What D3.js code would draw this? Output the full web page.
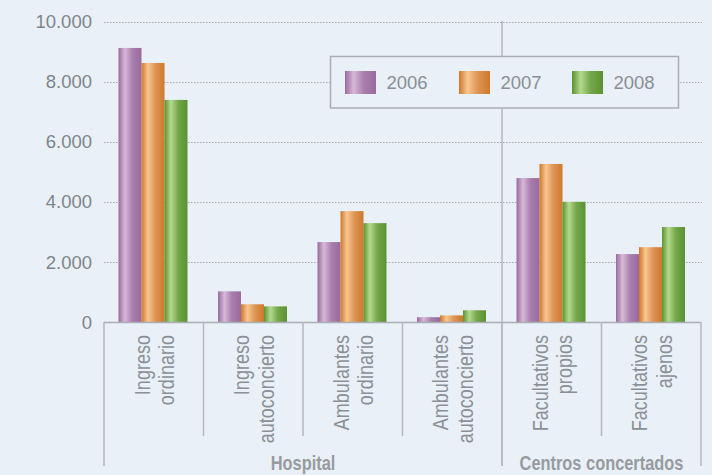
<!DOCTYPE html>
<html><head><meta charset="utf-8">
<script src="https://cdn.jsdelivr.net/npm/d3@7"></script>
<style>
html,body{margin:0;padding:0;background:#e9f0f7;}
svg{display:block;}
</style></head>
<body>
<svg id="c" width="712" height="475"></svg>
<script>
const categories = ["Ingreso ordinario","Ingreso autoconcierto","Ambulantes ordinario","Ambulantes autoconcierto","Facultativos propios","Facultativos ajenos"];
const categoryLines = [["Ingreso","ordinario"],["Ingreso","autoconcierto"],["Ambulantes","ordinario"],["Ambulantes","autoconcierto"],["Facultativos","propios"],["Facultativos","ajenos"]];
const years = ["2006","2007","2008"];
const values2006 = [9120, 1020, 2660, 160, 4790, 2260];
const values2007 = [8620, 590, 3690, 220, 5260, 2490];
const values2008 = [7390, 520, 3290, 390, 4000, 3160];
const groups = [{name:"Hospital", from:0, to:3},{name:"Centros concertados", from:4, to:5}];
const yTicks = [0, 2000, 4000, 6000, 8000, 10000];

const series = [values2006, values2007, values2008];
const colors = [
  {dark:"#996a9d", light:"#d7b8d8", mid:"#a97fae"},
  {dark:"#cf782a", light:"#f9c690", mid:"#de9556"},
  {dark:"#5a9231", light:"#b4d98d", mid:"#74a74b"}
];

const svg = d3.select("#c");
const bg = "#e9f0f7";
const grey = "#8b9096";
const lineGrey = "#a9aeb4";
const narrow = 0.82;

const x0 = d3.scaleBand().domain(categories).range([104, 701]).padding(0);
const x1 = d3.scaleBand().domain(years).range([14.5, 83.5]).padding(0);
const y = d3.scaleLinear().domain([0, 10000]).range([322, 21.5]);

const loc = d3.formatLocale({decimal:",", thousands:".", grouping:[3], currency:["",""]});
const fmt = loc.format(",d");

// gradients
const defs = svg.append("defs");
years.forEach((yr,i)=>{
  const g = defs.append("linearGradient").attr("id","g"+i).attr("x1","0").attr("x2","1").attr("y1","0").attr("y2","0");
  g.append("stop").attr("offset","0%").attr("stop-color",colors[i].dark);
  g.append("stop").attr("offset","28%").attr("stop-color",colors[i].light);
  g.append("stop").attr("offset","60%").attr("stop-color",colors[i].mid);
  g.append("stop").attr("offset","100%").attr("stop-color",colors[i].dark);
});

// gridlines
svg.append("g").selectAll("line").data(yTicks.filter(d=>d>0)).join("line")
  .attr("x1",104).attr("x2",702)
  .attr("y1",d=>Math.round(y(d))+0.5).attr("y2",d=>Math.round(y(d))+0.5)
  .attr("stroke","#a4a9ae").attr("stroke-width",1).attr("stroke-dasharray","1.5,1.5");

// y tick labels
svg.append("g").selectAll("text").data(yTicks).join("text")
  .attr("x",92).attr("y",d=>y(d)).attr("dy","0.36em")
  .attr("text-anchor","end")
  .attr("font-family","'Liberation Sans', Arial, sans-serif")
  .attr("font-size",18.5).attr("fill","#80858b")
  .text(d=>fmt(d));

// separator vertical line between groups
svg.append("line").attr("x1",x0(categories[4])).attr("x2",x0(categories[4]))
  .attr("y1",21).attr("y2",466).attr("stroke","#b4b9be").attr("stroke-width",1.5);

// bars
const gCat = svg.append("g").selectAll("g").data(categories).join("g")
  .attr("transform",d=>`translate(${x0(d)},0)`);
gCat.selectAll("rect").data((d,ci)=>years.map((yr,si)=>({yr,si,v:series[si][ci]}))).join("rect")
  .attr("x",d=>x1(d.yr)).attr("width",x1.bandwidth())
  .attr("y",d=>y(d.v)).attr("height",d=>y(0)-y(d.v))
  .attr("fill",d=>`url(#g${d.si})`);

// x axis line
svg.append("line").attr("x1",104).attr("x2",701).attr("y1",322.5).attr("y2",322.5)
  .attr("stroke",lineGrey).attr("stroke-width",1.5);

// category ticks
const bounds = categories.map(c=>x0(c)).concat([x0.range()[1]]);
const groupBounds = [0,4,6];
svg.append("g").selectAll("line").data(bounds).join("line")
  .attr("x1",d=>d).attr("x2",d=>d).attr("y1",322)
  .attr("y2",(d,i)=>groupBounds.includes(i)?466:436)
  .attr("stroke","#b4b9be").attr("stroke-width",1.5);

// category labels (Liberation Sans compressed along baseline to mimic a condensed face)
const labelFont = "'Liberation Sans', Arial, sans-serif";
categories.forEach((c,i)=>{
  const cx = x0(c) + x0.bandwidth()/2;
  const t = svg.append("text")
    .attr("transform",`translate(${cx},335) rotate(-90) scale(${narrow},1)`)
    .attr("text-anchor","end")
    .attr("font-family",labelFont).attr("font-size",22).attr("fill",grey);
  categoryLines[i].forEach((ln,j)=>{
    t.append("tspan").attr("x",0).attr("y", j===0 ? -4 : 20.5).text(ln);
  });
});

// group labels
svg.append("g").selectAll("text").data(groups).join("text")
  .attr("transform",d=>`translate(${(x0(categories[d.from]) + x0(categories[d.to]) + x0.bandwidth())/2},470) scale(${narrow},1)`)
  .attr("text-anchor","middle")
  .attr("font-family",labelFont).attr("font-weight","bold")
  .attr("font-size",20).attr("fill","#979ba0")
  .text(d=>d.name);

// legend
const lg = svg.append("g");
lg.append("rect").attr("x",330.5).attr("y",56.5).attr("width",348).attr("height",51.5)
  .attr("fill",bg).attr("stroke",lineGrey).attr("stroke-width",1.5);
const legendX = [345, 459, 572];
years.forEach((yr,i)=>{
  lg.append("rect").attr("x",legendX[i]).attr("y",71).attr("width",31).attr("height",23)
    .attr("fill",`url(#g${i})`);
  lg.append("text").attr("x",legendX[i]+41.5).attr("y",82.5).attr("dy","0.36em")
    .attr("font-family","'Liberation Sans', Arial, sans-serif")
    .attr("font-size",18.5).attr("fill","#8a8f95").text(yr);
});
</script>
</body></html>
